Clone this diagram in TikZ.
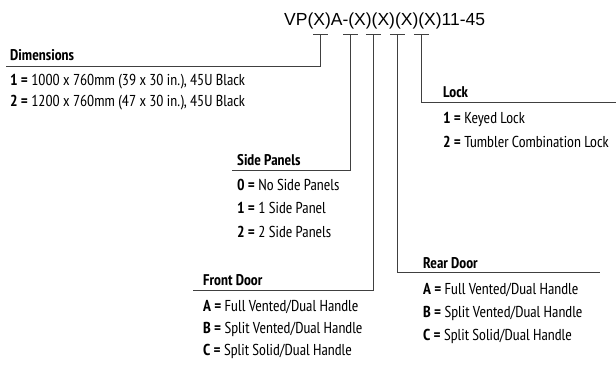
\documentclass[tikz,border=0pt]{standalone}
\usepackage{fontspec}
\setmainfont{Liberation Sans}
\newfontfamily\cond{PT Sans Narrow}
\begin{document}
\begin{tikzpicture}[x=1pt,y=-1pt,
  hdr/.style={anchor=base west, inner sep=0pt, font=\cond\bfseries\fontsize{15.5}{18}\selectfont},
  item/.style={anchor=base west, inner sep=0pt, font=\cond\fontsize{15.8}{19}\selectfont},
  ln/.style={draw=black!75, line width=0.9pt},
  ttl/.style={anchor=base west, inner sep=0pt, font=\fontsize{17.5}{20}\selectfont}]
\useasboundingbox (0,0) rectangle (616,365);
\node[ttl] (title) at (284,25.5) {VP(X)A-(X)(X)(X)(X)11-45};
% ticks
\coordinate (k1) at (320.7,34);
\coordinate (k2) at (350.7,34);
\coordinate (k3) at (373.3,34);
\coordinate (k4) at (397.7,34);
\coordinate (k5) at (421.3,34);
\foreach \k in {k1,k2,k3,k4,k5}{
  \draw[ln] ([xshift=-7.5pt]\k) -- ([xshift=7.5pt]\k);
}
% line ends
\coordinate (e1) at (6,66.7);
\coordinate (e2) at (232,170.7);
\coordinate (e3) at (193,290.7);
\coordinate (e4) at (600,272.3);
\coordinate (e5) at (616,102);
\draw[ln] (k1) -- (k1 |- e1) -- (e1);
\draw[ln] (k2) -- (k2 |- e2) -- (e2);
\draw[ln] (k3) -- (k3 |- e3) -- (e3);
\draw[ln] (k4) -- (k4 |- e4) -- (e4);
\draw[ln] (k5) -- (k5 |- e5) -- (e5);
% Dimensions
\node[hdr] (dh) at (10,60) {Dimensions};
\node[item] (d1) at (10,85) {\textbf{1 =} 1000 x 760mm (39 x 30 in.), 45U Black};
\node[item] (d2) at (10,106.7) {\textbf{2 =} 1200 x 760mm (47 x 30 in.), 45U Black};
% Side Panels
\node[hdr] (sh) at (237,165) {Side Panels};
\node[item] (s0) at (237,190) {\textbf{0 =} No Side Panels};
\node[item] (s1) at (237,213.5) {\textbf{1 =} 1 Side Panel};
\node[item] (s2) at (237,237) {\textbf{2 =} 2 Side Panels};
% Front Door
\node[hdr] (fh) at (203,285) {Front Door};
\node[item] (fa) at (203,311.7) {\textbf{A =} Full Vented/Dual Handle};
\node[item] (fb) at (203,333) {\textbf{B =} Split Vented/Dual Handle};
\node[item] (fc) at (203,355) {\textbf{C =} Split Solid/Dual Handle};
% Rear Door
\node[hdr] (rh) at (423,268) {Rear Door};
\node[item] (ra) at (423,294.5) {\textbf{A =} Full Vented/Dual Handle};
\node[item] (rb) at (423,317) {\textbf{B =} Split Vented/Dual Handle};
\node[item] (rc) at (423,340) {\textbf{C =} Split Solid/Dual Handle};
% Lock
\node[hdr] (lh) at (443,97) {Lock};
\node[item] (l1) at (443,123.3) {\textbf{1 =} Keyed Lock};
\node[item] (l2) at (443,147.3) {\textbf{2 =} Tumbler Combination Lock};
\end{tikzpicture}
\end{document}
